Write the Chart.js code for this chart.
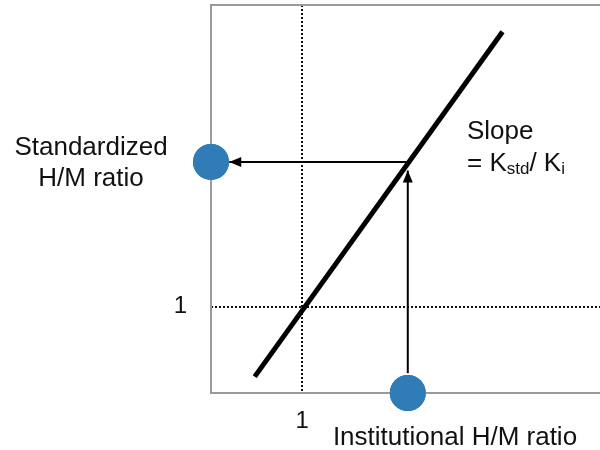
<!DOCTYPE html>
<html>
<head>
<meta charset="utf-8">
<script src="https://cdn.jsdelivr.net/npm/chart.js@4/dist/chart.umd.min.js"></script>
<style>
  html,body{margin:0;padding:0;background:#fff;}
  #wrap{width:600px;height:450px;}
</style>
</head>
<body>
<div id="wrap"><canvas id="c" width="600" height="450"></canvas></div>
<script>
// ---- data ----
const xTickValues = [1];
const yTickValues = [1];
const tickLabels = ['1'];
const calibX = [0.48, 3.2];
const calibY = [0.19, 4.19];
const arrowUpX = [2.16, 2.16];
const arrowUpY = [0.23, 2.58];
const arrowLeftX = [2.17, 0.2];
const arrowLeftY = [2.68, 2.68];
const pointX = [0, 2.16];
const pointY = [2.68, 0];
const xTitle = 'Institutional H/M ratio';
const yTitleLines = ['Standardized', 'H/M ratio'];
const slopeTitle = 'Slope';

const FONT = '"Liberation Sans", Helvetica, Arial, sans-serif';
const toXY = (xs, ys) => xs.map((x, i) => ({x: x, y: ys[i]}));
const zeroPad = s => { s.paddingTop = 0; s.paddingBottom = 0; s.paddingLeft = 0; s.paddingRight = 0; };

const annot = {
  id: 'annot',
  afterDatasetsDraw(chart) {
    const ctx = chart.ctx;
    const ca = chart.chartArea;
    const xs = chart.scales.x, ys = chart.scales.y;
    ctx.save();
    // frame (open on the right)
    ctx.strokeStyle = '#9a9a9a';
    ctx.lineWidth = 2;
    ctx.beginPath();
    ctx.moveTo(ca.right, ca.top);
    ctx.lineTo(ca.left, ca.top);
    ctx.lineTo(ca.left, ca.bottom);
    ctx.lineTo(ca.right, ca.bottom);
    ctx.stroke();
    // redraw points above frame
    const pm = chart.getDatasetMeta(3);
    pm.data.forEach(p => p.draw(ctx));
    // arrowheads at the ends of the arrow datasets
    const heads = [[arrowUpX, arrowUpY], [arrowLeftX, arrowLeftY]];
    ctx.fillStyle = '#000';
    heads.forEach(([ax, ay]) => {
      const n = ax.length;
      const x1 = xs.getPixelForValue(ax[n - 2]), y1 = ys.getPixelForValue(ay[n - 2]);
      const x2 = xs.getPixelForValue(ax[n - 1]), y2 = ys.getPixelForValue(ay[n - 1]);
      const ang = Math.atan2(y2 - y1, x2 - x1);
      const L = 12, W = 5;
      ctx.beginPath();
      ctx.moveTo(x2, y2);
      ctx.lineTo(x2 - L * Math.cos(ang) + W * Math.sin(ang), y2 - L * Math.sin(ang) - W * Math.cos(ang));
      ctx.lineTo(x2 - L * Math.cos(ang) - W * Math.sin(ang), y2 - L * Math.sin(ang) + W * Math.cos(ang));
      ctx.closePath();
      ctx.fill();
    });
    // texts
    ctx.fillStyle = '#111';
    ctx.textBaseline = 'middle';
    ctx.textAlign = 'center';
    ctx.font = '26px ' + FONT;
    ctx.fillText(yTitleLines[0], 91, 148);
    ctx.fillText(yTitleLines[1], 91, 179);
    ctx.fillText(xTitle, 455, 438);
    ctx.textAlign = 'left';
    ctx.fillText(slopeTitle, 467, 132);
    let x = 467, y = 164;
    const big = '26px ' + FONT, small = '17px ' + FONT;
    const parts = [['= K', big, 0], ['std', small, 5], ['/ K', big, 0], ['i', small, 5]];
    parts.forEach(([t, f, dy]) => {
      ctx.font = f;
      ctx.fillText(t, x, y + dy);
      x += ctx.measureText(t).width;
    });
    ctx.restore();
  }
};

new Chart(document.getElementById('c'), {
  type: 'scatter',
  data: {
    datasets: [
      {data: toXY(calibX, calibY), showLine: true, borderColor: '#000', borderWidth: 5, pointRadius: 0, borderCapStyle: 'butt'},
      {data: toXY(arrowUpX, arrowUpY), showLine: true, borderColor: '#000', borderWidth: 2, pointRadius: 0},
      {data: toXY(arrowLeftX, arrowLeftY), showLine: true, borderColor: '#000', borderWidth: 2, pointRadius: 0},
      {data: toXY(pointX, pointY), showLine: false, pointRadius: 18, pointHoverRadius: 18,
       backgroundColor: '#2f7cb7', borderColor: '#2f7cb7', borderWidth: 0, clip: false}
    ]
  },
  options: {
    responsive: false,
    animation: false,
    events: [],
    layout: {autoPadding: false, padding: {top: 5, right: 0, left: 0, bottom: 0}},
    plugins: {legend: {display: false}, tooltip: {enabled: false}},
    scales: {
      x: {
        type: 'linear', min: 0, max: 4.27,
        afterBuildTicks: s => { s.ticks = xTickValues.map(v => ({value: v})); },
        afterFit: s => { s.height = 57; zeroPad(s); },
        ticks: {padding: 14, color: '#111', font: {size: 24, family: FONT},
                callback: (v) => tickLabels[xTickValues.indexOf(v)] ?? ''},
        grid: {color: '#111', lineWidth: 2, drawTicks: false},
        border: {display: false, dash: [2, 2]}
      },
      y: {
        type: 'linear', min: 0, max: 4.5,
        afterBuildTicks: s => { s.ticks = yTickValues.map(v => ({value: v})); },
        afterFit: s => { s.width = 211; zeroPad(s); },
        ticks: {padding: 24, color: '#111', font: {size: 24, family: FONT},
                callback: (v) => tickLabels[yTickValues.indexOf(v)] ?? ''},
        grid: {color: '#111', lineWidth: 2, drawTicks: false},
        border: {display: false, dash: [2, 2]}
      }
    }
  },
  plugins: [annot]
});
</script>
</body>
</html>
